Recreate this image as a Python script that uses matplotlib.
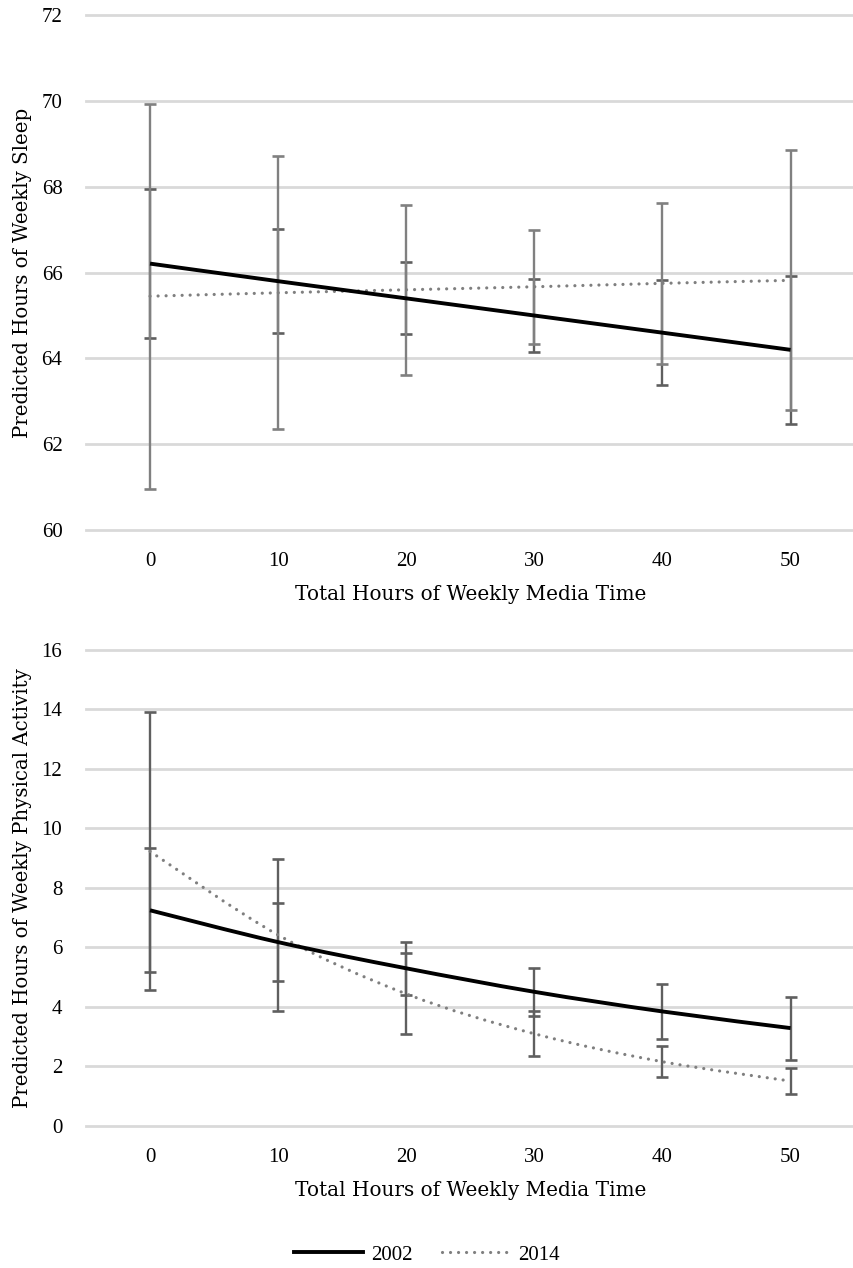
import matplotlib
matplotlib.use("Agg")
import matplotlib.pyplot as plt
from matplotlib.path import Path
from matplotlib.patches import PathPatch
from matplotlib.lines import Line2D
import numpy as np

# ---- data ----
media_hours = ["0", "10", "20", "30", "40", "50"]

sleep_2002 = [66.21, 65.80, 65.40, 65.00, 64.60, 64.20]
sleep_2002_err = [1.74, 1.21, 0.84, 0.86, 1.22, 1.72]
sleep_2014 = [65.45, 65.53, 65.60, 65.67, 65.75, 65.82]
sleep_2014_err = [4.49, 3.18, 1.98, 1.33, 1.88, 3.03]

pa_2002 = [7.25, 6.18, 5.30, 4.51, 3.85, 3.29]
pa_2002_err = [2.09, 1.31, 0.89, 0.81, 0.92, 1.06]
pa_2014 = [9.23, 6.42, 4.44, 3.10, 2.16, 1.51]
pa_2014_err = [4.67, 2.56, 1.36, 0.76, 0.52, 0.45]

sleep_ticks = [60, 62, 64, 66, 68, 70, 72]
pa_ticks = [0, 2, 4, 6, 8, 10, 12, 14, 16]

xlabel = "Total Hours of Weekly Media Time"
ylabel_top = "Predicted Hours of Weekly Sleep"
ylabel_bottom = "Predicted Hours of Weekly Physical Activity"
series_names = ["2002", "2014"]

# ---- styles ----
TICK_FONT = "Liberation Serif"
TITLE_FONT = "DejaVu Serif"
GRID_C = "#d9d9d9"
C2002 = "black"
C2014 = "#7f7f7f"
SOLID_LW = 2.8
DOT_LW = 2.3
DOTS = (0, (0.01, 2.5))


def smooth_path(x, y):
    """Excel-style smoothed line through the data points (Bezier segments)."""
    x = np.asarray(x, float)
    y = np.asarray(y, float)
    n = len(x)
    verts = [(x[0], y[0])]
    codes = [Path.MOVETO]
    for i in range(n - 1):
        p0 = np.array([x[max(i - 1, 0)], y[max(i - 1, 0)]])
        p1 = np.array([x[i], y[i]])
        p2 = np.array([x[i + 1], y[i + 1]])
        p3 = np.array([x[min(i + 2, n - 1)], y[min(i + 2, n - 1)]])
        c1 = p1 + (p2 - p0) / 6.0
        c2 = p2 - (p3 - p1) / 6.0
        verts += [tuple(c1), tuple(c2), tuple(p2)]
        codes += [Path.CURVE4] * 3
    return Path(verts, codes)


fig = plt.figure(figsize=(8.54, 12.68), dpi=100)
ax1 = fig.add_axes([0.1007, 0.582, 0.9, 0.406])
ax2 = fig.add_axes([0.1007, 0.112, 0.9, 0.3754])


def draw(ax, v02, e02, v14, e14, ticks, ylab, ecol02, ecol14):
    xs = np.arange(len(media_hours))
    ax.errorbar(xs, v02, yerr=e02, fmt="none", ecolor=ecol02, elinewidth=1.7,
                capsize=4, capthick=1.9, zorder=2)
    ax.errorbar(xs, v14, yerr=e14, fmt="none", ecolor=ecol14, elinewidth=1.7,
                capsize=4, capthick=1.9, zorder=2.1)
    p02 = PathPatch(smooth_path(xs, v02), facecolor="none", edgecolor=C2002,
                    lw=SOLID_LW, zorder=4, transform=ax.transData,
                    capstyle="butt")
    ax.add_patch(p02)
    p14 = PathPatch(smooth_path(xs, v14), facecolor="none", edgecolor=C2014,
                    lw=DOT_LW, zorder=3, transform=ax.transData,
                    linestyle=DOTS, capstyle="round")
    ax.add_patch(p14)
    ax.set_xlim(-0.5, len(media_hours) - 0.5)
    ax.set_ylim(ticks[0], ticks[-1])
    ax.set_yticks(ticks)
    ax.set_xticks(xs)
    ax.set_xticklabels(media_hours)
    for s in ax.spines.values():
        s.set_visible(False)
    ax.grid(axis="y", color=GRID_C, lw=2.0)
    for gl in ax.get_ygridlines():
        gl.set_clip_on(False)
    ax.set_axisbelow(True)
    ax.tick_params(axis="both", length=0, labelsize=15)
    ax.tick_params(axis="x", pad=16)
    ax.tick_params(axis="y", pad=17)
    for lab in ax.get_xticklabels() + ax.get_yticklabels():
        lab.set_fontfamily(TICK_FONT)
    ax.set_xlabel(xlabel, fontsize=14.4, family=TITLE_FONT, labelpad=10)
    ax.set_ylabel(ylab, fontsize=14.2, family=TITLE_FONT)


draw(ax1, sleep_2002, sleep_2002_err, sleep_2014, sleep_2014_err, sleep_ticks,
     ylabel_top, "#5f5f5f", "#808080")
draw(ax2, pa_2002, pa_2002_err, pa_2014, pa_2014_err, pa_ticks,
     ylabel_bottom, "#5f5f5f", "#5f5f5f")

ax1.yaxis.set_label_coords(-0.07, 0.5)
ax2.yaxis.set_label_coords(-0.07, 0.5)

handles = [
    Line2D([], [], color=C2002, lw=SOLID_LW),
    Line2D([], [], color=C2014, lw=DOT_LW, linestyle=DOTS,
           dash_capstyle="round"),
]
leg = fig.legend(handles, series_names, loc="center", ncol=2,
                 bbox_to_anchor=(0.5, 1 - 1255 / 1268), frameon=False,
                 prop={"family": TICK_FONT, "size": 15}, handlelength=3.3,
                 handletextpad=0.4, columnspacing=1.4)

fig.savefig("out.png", dpi=100)
